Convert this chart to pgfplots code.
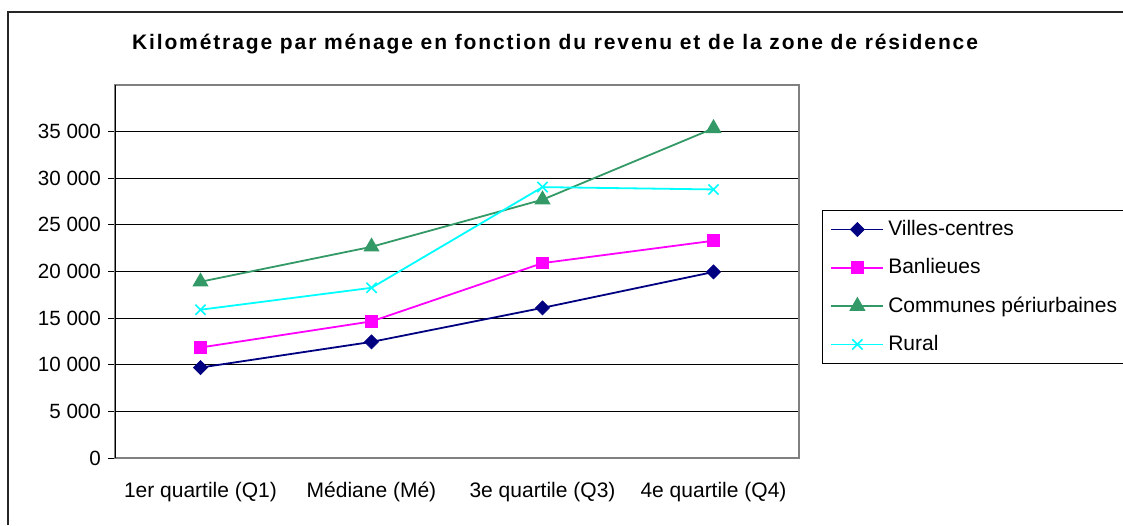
\documentclass[border=0pt]{standalone}
\usepackage{fontspec}
\setmainfont{Liberation Sans}
\usepackage{pgfplots}
\pgfplotsset{compat=1.18}
\definecolor{cVC}{HTML}{000080}
\definecolor{cBa}{HTML}{FF00FF}
\definecolor{cCP}{HTML}{339966}
\definecolor{cRu}{HTML}{00FFFF}
\newfontfamily\titlefont[LetterSpace=9]{Liberation Sans Bold}
\begin{document}
\begin{tikzpicture}
\useasboundingbox (0,0) rectangle (561.5pt,262.5pt);
\draw[line width=0.9pt,black!85] (4pt,0pt) -- (4pt,256.5pt) -- (570pt,256.5pt);
\node[font=\titlefont\fontsize{10.5}{12}\selectfont] at (277.5pt,240.5pt) {Kilométrage par ménage en fonction du revenu et de la zone de résidence};
\begin{axis}[
  at={(57.5pt,33.5pt)}, anchor=south west,
  scale only axis, width=342pt, height=186.5pt,
  xmin=-0.5, xmax=3.5, ymin=0, ymax=40000,
  scaled y ticks=false,
  axis line style={draw=gray, line width=0.7pt},
  xtick={0,1,2,3},
  xticklabels={1er quartile (Q1),Médiane (Mé),3e quartile (Q3),4e quartile (Q4)},
  x tick style={draw=none},
  xticklabel style={yshift=-5pt, font=\fontsize{10.5}{12}\selectfont},
  extra x ticks={-0.5,0.5,1.5,2.5,3.5},
  extra x tick labels={},
  extra x tick style={tick style={draw=black, line width=0.5pt}, major tick length=2.5pt, tick align=outside},
  xtick pos=bottom, ytick pos=left,
  ytick={0,5000,...,35000},
  yticklabels={0,5 000,10 000,15 000,20 000,25 000,30 000,35 000},
  y tick style={draw=black, line width=0.5pt},
  yticklabel style={font=\fontsize{10.3}{12}\selectfont},
  major tick length=3.5pt, tick align=outside,
  ymajorgrids, grid style={black, line width=0.5pt},
  legend style={at={(1.0336,0.665)}, anchor=north west, draw=black, line width=0.5pt,
    font=\fontsize{10.5}{12}\selectfont, row sep=6pt, inner xsep=4pt, inner ysep=3pt,
    cells={anchor=west}},
  legend cell align=left,
  legend image code/.code={\draw[mark repeat=2,mark phase=2] plot coordinates {(0pt,0pt)(13pt,0pt)(26pt,0pt)};},
]
\draw[black, line width=0.8pt] (rel axis cs:0,0) -- (rel axis cs:0,1);
\addplot[cVC, line width=0.9pt, mark=square*, mark size=2.5pt, mark options={fill=cVC, line width=0.3pt, rotate=45}] coordinates {(0,9700) (1,12450) (2,16100) (3,19950)};
\addlegendentry{Villes-centres}
\addplot[cBa, line width=0.9pt, mark=square*, mark size=2.7pt, mark options={fill=cBa}] coordinates {(0,11850) (1,14650) (2,20900) (3,23300)};
\addlegendentry{Banlieues}
\addplot[cCP, line width=0.9pt, mark=triangle*, mark size=3.8pt, mark options={fill=cCP}] coordinates {(0,18900) (1,22650) (2,27700) (3,35350)};
\addlegendentry{Communes périurbaines}
\addplot[cRu, line width=0.9pt, mark=x, mark size=3.6pt, mark options={line width=0.8pt}] coordinates {(0,15900) (1,18250) (2,29050) (3,28800)};
\addlegendentry{Rural}
\end{axis}
\end{tikzpicture}
\end{document}
